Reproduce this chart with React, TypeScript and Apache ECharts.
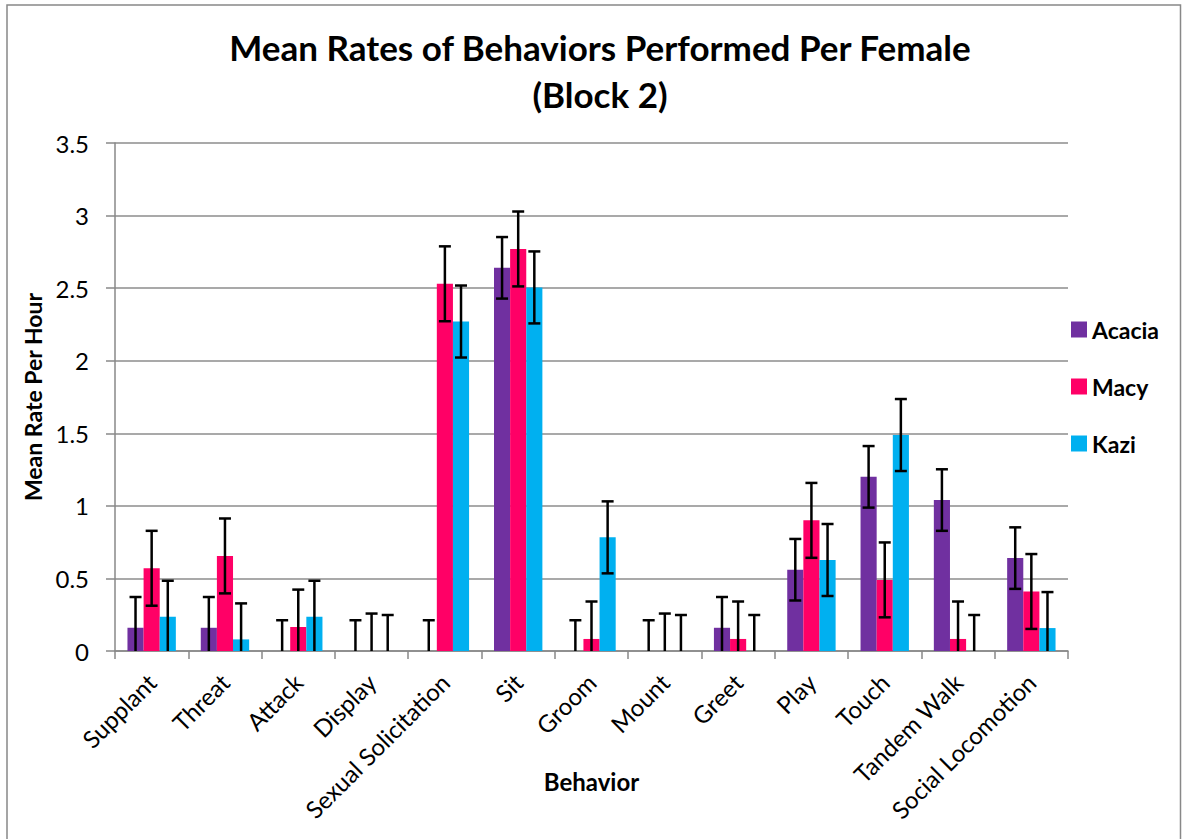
import React, { useEffect, useRef } from "react";
import * as echarts from "echarts";

const categories = [
  "Supplant", "Threat", "Attack", "Display", "Sexual Solicitation", "Sit",
  "Groom", "Mount", "Greet", "Play", "Touch", "Tandem Walk", "Social Locomotion",
];
const acacia = [0.16, 0.16, 0, 0, 0, 2.64, 0, 0, 0.16, 0.56, 1.2, 1.04, 0.64];
const macy = [0.57, 0.655, 0.165, 0, 2.53, 2.77, 0.083, 0, 0.083, 0.9, 0.49, 0.083, 0.41];
const kazi = [0.236, 0.08, 0.236, 0, 2.27, 2.505, 0.783, 0, 0, 0.627, 1.488, 0, 0.158];
const acaciaErr = [0.212, 0.212, 0.212, 0.212, 0.212, 0.212, 0.212, 0.212, 0.212, 0.212, 0.212, 0.212, 0.212];
const macyErr = [0.258, 0.258, 0.258, 0.258, 0.258, 0.258, 0.258, 0.258, 0.258, 0.258, 0.258, 0.258, 0.258];
const kaziErr = [0.248, 0.248, 0.248, 0.248, 0.248, 0.248, 0.248, 0.248, 0.248, 0.248, 0.248, 0.248, 0.248];
const seriesNames = ["Acacia", "Macy", "Kazi"];
const colors = ["#7030A0", "#FF0066", "#00B0F0"];
const yTicks = [0, 0.5, 1, 1.5, 2, 2.5, 3, 3.5];

const FONT = "Lato";
const CAT_GAP = 0.34;

function errSeries(idx: number, vals: number[], errs: number[]) {
  return {
    type: "custom",
    name: seriesNames[idx] + " error",
    z: 10,
    silent: true,
    data: vals.map((v, i) => [i, v, errs[i]]),
    encode: { x: 0, y: 1 },
    renderItem: (params: any, api: any) => {
      const ci = api.value(0);
      const v = api.value(1);
      const e = api.value(2);
      const catW = api.size([1, 0])[0];
      const barW = (catW * (1 - CAT_GAP)) / 3;
      const cx = api.coord([ci, 0])[0] + (idx - 1) * barW;
      const low = Math.max(0, v - e);
      const yTop = api.coord([ci, v + e])[1];
      const yBot = api.coord([ci, low])[1];
      const st = { stroke: "#000", lineWidth: 2.5 };
      const children: any[] = [
        { type: "line", shape: { x1: cx, y1: yTop, x2: cx, y2: yBot }, style: st },
        { type: "line", shape: { x1: cx - 6, y1: yTop, x2: cx + 6, y2: yTop }, style: st },
      ];
      if (v - e > 0) {
        children.push({ type: "line", shape: { x1: cx - 6, y1: yBot, x2: cx + 6, y2: yBot }, style: st });
      }
      return { type: "group", children };
    },
  };
}

export default function App() {
  const ref = useRef<HTMLDivElement>(null);
  useEffect(() => {
    if (!ref.current) return;
    const chart = echarts.init(ref.current, null, { renderer: "svg" });
    const values = [acacia, macy, kazi];
    const errs = [acaciaErr, macyErr, kaziErr];
    chart.setOption({
      animation: false,
      backgroundColor: "#fff",
      textStyle: { fontFamily: FONT },
      title: {
        text: "Mean Rates of Behaviors Performed Per Female\n(Block 2)",
        left: 595,
        top: 18,
        textAlign: "center",
        textStyle: { fontFamily: FONT, fontWeight: "bold", fontSize: 35, lineHeight: 47, color: "#000" },
      },
      graphic: [
        {
          type: "rect",
          shape: { x: 7, y: 5, width: 1173.5, height: 845 },
          style: { fill: "none", stroke: "#888", lineWidth: 1.5 },
          silent: true,
        },
      ],
      legend: {
        data: seriesNames,
        orient: "vertical",
        left: 1071,
        top: 318,
        padding: 0,
        itemWidth: 16,
        itemHeight: 16,
        itemGap: 34,
        icon: "rect",
        textStyle: { fontFamily: FONT, fontWeight: "bold", fontSize: 23, color: "#000" },
      },
      grid: { left: 115, top: 143, right: 114, bottom: 188, containLabel: false, outerBoundsMode: "none" },
      xAxis: {
        type: "category",
        data: categories,
        name: "Behavior",
        nameLocation: "middle",
        nameGap: 118,
        nameMoveOverlap: false,
        nameTextStyle: { fontFamily: FONT, fontWeight: "bold", fontSize: 24, color: "#000" },
        axisLine: { lineStyle: { color: "#888", width: 1.5 } },
        axisTick: { show: true, length: 8, lineStyle: { color: "#888", width: 1.5 } },
        axisLabel: { interval: 0, rotate: 45, margin: 27, fontFamily: FONT, fontSize: 24, color: "#000" },
      },
      yAxis: {
        type: "value",
        min: 0,
        max: 3.5,
        interval: 0.5,
        name: "Mean Rate Per Hour",
        nameLocation: "middle",
        nameGap: 71,
        nameMoveOverlap: false,
        nameTextStyle: { fontFamily: FONT, fontWeight: "bold", fontSize: 23, color: "#000" },
        axisLine: { show: true, lineStyle: { color: "#888", width: 1.5 } },
        axisTick: { show: true, length: 9, lineStyle: { color: "#888", width: 1.5 } },
        axisLabel: {
          margin: 26,
          fontFamily: FONT,
          fontSize: 24,
          color: "#000",
          formatter: (v: number) => (yTicks.includes(v) ? String(v) : ""),
        },
        splitLine: { lineStyle: { color: "#8c8c8c", width: 1.5 } },
      },
      series: [
        ...values.map((vals, i) => ({
          type: "bar",
          name: seriesNames[i],
          data: vals,
          barGap: "0%",
          barCategoryGap: "34%",
          itemStyle: { color: colors[i] },
        })),
        ...values.map((vals, i) => errSeries(i, vals, errs[i])),
      ],
    });
    return () => chart.dispose();
  }, []);
  return (
    <div
      ref={ref}
      style={{ position: "absolute", left: 0, top: 0, width: 1182, height: 839 }}
    />
  );
}
